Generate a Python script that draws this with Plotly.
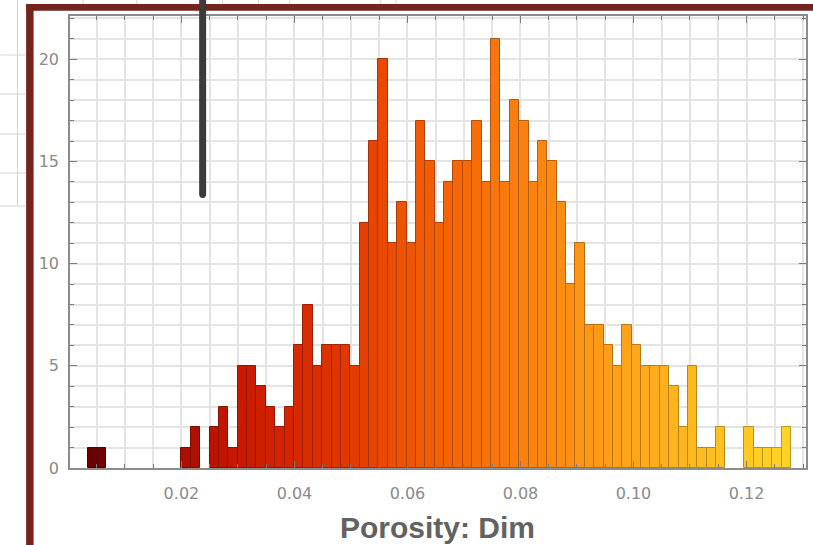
import plotly.graph_objects as go

# Porosity (Dim) histogram: bin layout and counts per bin
bin_width = 0.00166
first_edge = 0.0034
counts = [1, 1, 0, 0, 0, 0, 0, 0, 0, 0,
          1, 2, 0, 2, 3, 1, 5, 5, 4, 3, 2, 3, 6, 8, 5, 6, 6, 6, 5, 12, 16, 20,
          11, 13, 11, 17, 15, 12, 14, 15, 15, 17, 14, 21, 14, 18, 17, 14, 16, 15, 13, 9, 11, 7,
          7, 6, 5, 7, 6, 5, 5, 5, 4, 2, 5, 1, 1, 2, 0, 0, 2, 1, 1, 1, 2]
x_ticks = [0.02, 0.04, 0.06, 0.08, 0.10, 0.12]
x_tick_labels = ["0.02", "0.04", "0.06", "0.08", "0.10", "0.12"]
y_ticks = [0, 5, 10, 15, 20]
x_title = "Porosity: Dim"

W, H = 813, 545
ML, MR, MT, MB = 70, 5, 16, 77
PW, PH = W - ML - MR, H - MT - MB

centers = [first_edge + (i + 0.5) * bin_width for i in range(len(counts))]

# solar-like gradient along the porosity axis
stops = [(0.00, (108, 0, 0)), (0.14, (172, 16, 0)), (0.21, (200, 24, 0)),
         (0.29, (214, 38, 0)), (0.37, (226, 56, 0)), (0.45, (238, 84, 3)),
         (0.53, (245, 104, 8)), (0.62, (250, 128, 16)), (0.70, (253, 147, 20)),
         (0.78, (255, 166, 26)), (0.86, (255, 184, 30)), (0.94, (255, 200, 33)),
         (1.00, (255, 212, 38))]


def grad(t):
    for (t0, c0), (t1, c1) in zip(stops[:-1], stops[1:]):
        if t <= t1:
            f = (t - t0) / (t1 - t0)
            return tuple(c0[k] + f * (c1[k] - c0[k]) for k in range(3))
    return stops[-1][1]


lo, hi = centers[0], centers[-1]
bx, by, fills, edges = [], [], [], []
for c, n in zip(centers, counts):
    if n == 0:
        continue  # empty bins leave a gap
    r, g, b = grad((c - lo) / (hi - lo))
    bx.append(c)
    by.append(n)
    fills.append(f"rgb({r:.0f},{g:.0f},{b:.0f})")
    edges.append(f"rgb({r*0.72:.0f},{g*0.72:.0f},{b*0.72:.0f})")

fig = go.Figure(go.Bar(
    x=bx, y=by, width=bin_width,
    marker=dict(color=fills, line=dict(color=edges, width=1)),
    hoverinfo="x+y",
))


def px(x):
    return (x - ML) / PW


def py(y):
    return (MT + PH - y) / PH


shapes = []
# notebook cell frame
frame = "rgb(116,36,29)"
shapes.append(dict(type="rect", xref="paper", yref="paper", x0=px(26), x1=px(830),
                   y0=py(4), y1=py(10.7), fillcolor=frame, line=dict(width=0), layer="above"))
shapes.append(dict(type="rect", xref="paper", yref="paper", x0=px(26), x1=px(33.5),
                   y0=py(4), y1=py(560), fillcolor=frame, line=dict(width=0), layer="above"))
# spreadsheet rules around the frame
rule = dict(color="#d4d4d4", width=1)
for yy in [55, 94, 134, 173, 206]:
    shapes.append(dict(type="line", xref="paper", yref="paper", x0=px(0), x1=px(26),
                       y0=py(yy), y1=py(yy), line=rule))
shapes.append(dict(type="line", xref="paper", yref="paper", x0=px(17.3), x1=px(17.3),
                   y0=py(0), y1=py(206), line=rule))
for xx in [83, 137, 223, 259, 290, 381, 397]:
    shapes.append(dict(type="line", xref="paper", yref="paper", x0=px(xx), x1=px(xx),
                       y0=py(0), y1=py(4), line=rule))
# dark slider bar crossing the plot
path = (f"M {px(199.5)},{py(0)} L {px(206.5)},{py(0)} L {px(206.5)},{py(194)} "
        f"Q {px(206.5)},{py(198)} {px(203)},{py(198)} "
        f"Q {px(199.5)},{py(198)} {px(199.5)},{py(194)} Z")
shapes.append(dict(type="path", xref="paper", yref="paper", path=path,
                   fillcolor="#3b3b3b", line=dict(width=0), layer="above"))

tick_font = dict(family="DejaVu Sans", size=16, color="#8a8a8a")
axis_common = dict(showline=True, linecolor="#8c8c8c", linewidth=1.5, mirror="allticks",
                   ticks="inside", tickcolor="#7a7a7a", tickwidth=1.2, ticklen=7,
                   showgrid=True, gridcolor="#e4e4e4", gridwidth=1.5, zeroline=False,
                   tickfont=tick_font)

fig.update_layout(
    width=W, height=H,
    margin=dict(l=ML, r=MR, t=MT, b=MB, pad=0),
    paper_bgcolor="white", plot_bgcolor="white",
    showlegend=False, bargap=0,
    xaxis=dict(range=[0.00028, 0.13053], tickvals=x_ticks, ticktext=x_tick_labels,
               ticklabelstandoff=10,
               minor=dict(dtick=0.005, tick0=0, ticks="inside", ticklen=4,
                          tickcolor="#7a7a7a", showgrid=True,
                          gridcolor="#e4e4e4", gridwidth=1.5),
               **axis_common),
    yaxis=dict(range=[0, 22.12], tickvals=y_ticks, ticklabelstandoff=6,
               minor=dict(dtick=1, tick0=0, ticks="inside", ticklen=4,
                          tickcolor="#7a7a7a", showgrid=True,
                          gridcolor="#e4e4e4", gridwidth=1.5),
               **axis_common),
    shapes=shapes,
    annotations=[dict(text=x_title, xref="paper", yref="paper", x=px(438), y=py(527),
                      xanchor="center", yanchor="middle", showarrow=False,
                      font=dict(family="Liberation Sans", size=30, color="#626262",
                                weight="bold"))],
)

fig.write_html("out.html")
